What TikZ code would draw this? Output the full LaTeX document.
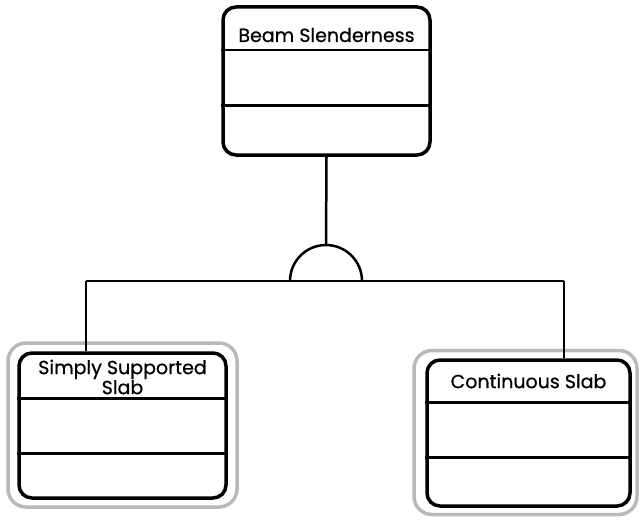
\documentclass[tikz,border=0pt]{standalone}
\usepackage{fontspec}
\setmainfont{Poppins}[FakeBold=0.6]
\begin{document}
\begin{tikzpicture}[x=1pt,y=-1pt,
  classbox/.style={draw=black, line width=3.5pt, rounded corners=13pt, fill=white},
  shadebox/.style={draw=gray!55, line width=3.5pt, rounded corners=18pt},
  divider/.style={draw=black, line width=2.5pt},
  conn/.style={draw=black, line width=2.5pt},
  lbl/.style={font=\fontsize{19}{20}\selectfont, inner sep=0pt, align=center}]
\useasboundingbox (0,0) rectangle (639,519);

% top box
\node[classbox, minimum width=207pt, minimum height=148pt, inner sep=0pt] (beam) at (326.5,81) {};
\draw[divider] ([yshift=-45pt]beam.north west) -- ([yshift=-45pt]beam.north east);
\draw[divider] ([yshift=-100pt]beam.north west) -- ([yshift=-100pt]beam.north east);
\node[lbl] (beamt) at (326.5,35) {Beam Slenderness};

% left box
\node[shadebox, minimum width=229pt, minimum height=164pt, inner sep=0pt] (lshade) at (122.5,425) {};
\node[classbox, minimum width=207pt, minimum height=145pt, inner sep=0pt] (simp) at (122.5,425.5) {};
\draw[divider] ([yshift=-47pt]simp.north west) -- ([yshift=-47pt]simp.north east);
\draw[divider] ([yshift=-102pt]simp.north west) -- ([yshift=-102pt]simp.north east);
\node[lbl] (simpt) at (122.5,377) {Simply Supported\\Slab};

% right box
\node[shadebox, minimum width=223pt, minimum height=164pt, inner sep=0pt] (rshade) at (525.5,432.5) {};
\node[classbox, minimum width=203pt, minimum height=146pt, inner sep=0pt] (cont) at (528.5,433) {};
\draw[divider] ([yshift=-44pt]cont.north west) -- ([yshift=-44pt]cont.north east);
\draw[divider] ([yshift=-99pt]cont.north west) -- ([yshift=-99pt]cont.north east);
\node[lbl] (contt) at (528.5,381) {Continuous Slab};

% connectors
\coordinate (andc) at (326,281);
\coordinate (andtop) at (326,245);
\coordinate (lj) at (86,281);
\coordinate (rj) at (564,281);
\draw[conn] (beam.south) -- (andtop);
\draw[conn] ([xshift=-36pt]andc) arc[start angle=180, end angle=0, radius=36pt];
\draw[conn] (lj) -- (rj);
\draw[conn] (lj) -- (lj |- simp.north);
\draw[conn] (rj) -- (rj |- cont.north);
\end{tikzpicture}
\end{document}
